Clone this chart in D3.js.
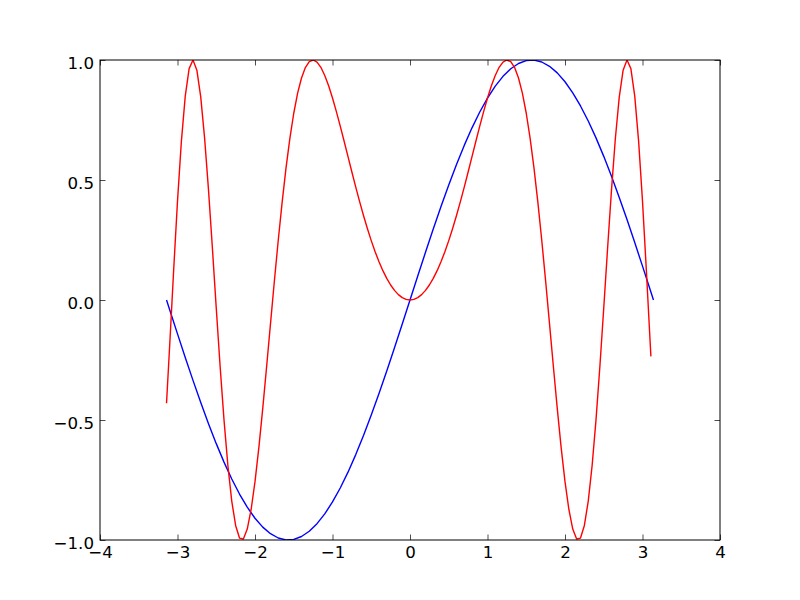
<!DOCTYPE html>
<html><head><meta charset="utf-8">
<script src="https://cdn.jsdelivr.net/npm/d3@7"></script>
<style>body{margin:0;background:#fff}svg{display:block}</style>
</head><body>
<svg id="c" width="800" height="600"></svg>
<script>
const blueX = [-3.1416,-3.1,-3.0,-2.9,-2.8,-2.7,-2.6,-2.5,-2.4,-2.3,-2.2,-2.1,-2.0,-1.9,-1.8,-1.7,-1.6,-1.5,-1.4,-1.3,-1.2,-1.1,-1.0,-0.9,-0.8,-0.7,-0.6,-0.5,-0.4,-0.3,-0.2,-0.1,0.0,0.1,0.2,0.3,0.4,0.5,0.6,0.7,0.8,0.9,1.0,1.1,1.2,1.3,1.4,1.5,1.6,1.7,1.8,1.9,2.0,2.1,2.2,2.3,2.4,2.5,2.6,2.7,2.8,2.9,3.0,3.1,3.1416];
const blueY = [0,-0.0416,-0.1411,-0.2392,-0.3350,-0.4274,-0.5155,-0.5985,-0.6755,-0.7457,-0.8085,-0.8632,-0.9093,-0.9463,-0.9738,-0.9917,-0.9996,-0.9975,-0.9854,-0.9636,-0.9320,-0.8912,-0.8415,-0.7833,-0.7174,-0.6442,-0.5646,-0.4794,-0.3894,-0.2955,-0.1987,-0.0998,0,0.0998,0.1987,0.2955,0.3894,0.4794,0.5646,0.6442,0.7174,0.7833,0.8415,0.8912,0.9320,0.9636,0.9854,0.9975,0.9996,0.9917,0.9738,0.9463,0.9093,0.8632,0.8085,0.7457,0.6755,0.5985,0.5155,0.4274,0.3350,0.2392,0.1411,0.0416,0];
const redX = [-3.1416,-3.10,-3.05,-3.00,-2.95,-2.90,-2.85,-2.80,-2.75,-2.70,-2.65,-2.60,-2.55,-2.50,-2.45,-2.40,-2.35,-2.30,-2.25,-2.20,-2.15,-2.10,-2.05,-2.00,-1.95,-1.90,-1.85,-1.80,-1.75,-1.70,-1.65,-1.60,-1.55,-1.50,-1.45,-1.40,-1.35,-1.30,-1.25,-1.20,-1.15,-1.10,-1.05,-1.00,-0.95,-0.90,-0.85,-0.80,-0.75,-0.70,-0.65,-0.60,-0.55,-0.50,-0.45,-0.40,-0.35,-0.30,-0.25,-0.20,-0.15,-0.10,-0.05,0.00,0.05,0.10,0.15,0.20,0.25,0.30,0.35,0.40,0.45,0.50,0.55,0.60,0.65,0.70,0.75,0.80,0.85,0.90,0.95,1.00,1.05,1.10,1.15,1.20,1.25,1.30,1.35,1.40,1.45,1.50,1.55,1.60,1.65,1.70,1.75,1.80,1.85,1.90,1.95,2.00,2.05,2.10,2.15,2.20,2.25,2.30,2.35,2.40,2.45,2.50,2.55,2.60,2.65,2.70,2.75,2.80,2.85,2.90,2.95,3.00,3.05,3.10,3.1084];
const redY = [-0.4303,-0.1841,0.1220,0.4121,0.6611,0.8494,0.9642,0.9999,0.9578,0.8452,0.6737,0.4589,0.2175,-0.0332,-0.2770,-0.4996,-0.6894,-0.8378,-0.9393,-0.9919,-0.9960,-0.9546,-0.8728,-0.7568,-0.6138,-0.4515,-0.2772,-0.0982,0.0790,0.2489,0.4069,0.5494,0.6736,0.7781,0.8620,0.9252,0.9685,0.9929,1.0000,0.9915,0.9695,0.9356,0.8925,0.8415,0.7847,0.7243,0.6613,0.5972,0.5333,0.4706,0.4101,0.3523,0.2979,0.2474,0.2011,0.1593,0.1222,0.0899,0.0625,0.0400,0.0225,0.0100,0.0025,0,0.0025,0.0100,0.0225,0.0400,0.0625,0.0899,0.1222,0.1593,0.2011,0.2474,0.2979,0.3523,0.4101,0.4706,0.5333,0.5972,0.6613,0.7243,0.7847,0.8415,0.8925,0.9356,0.9695,0.9915,1.0000,0.9929,0.9685,0.9252,0.8620,0.7781,0.6736,0.5494,0.4069,0.2489,0.0790,-0.0982,-0.2772,-0.4515,-0.6138,-0.7568,-0.8728,-0.9546,-0.9960,-0.9919,-0.9393,-0.8378,-0.6894,-0.4996,-0.2770,-0.0332,0.2175,0.4589,0.6737,0.8452,0.9578,0.9999,0.9642,0.8494,0.6611,0.4121,0.1220,-0.1841,-0.235];
const xTicks = [-4,-3,-2,-1,0,1,2,3,4];
const yTicks = [-1.0,-0.5,0.0,0.5,1.0];
const xLabels = ["\u22124","\u22123","\u22122","\u22121","0","1","2","3","4"];
const yLabels = ["\u22121.0","\u22120.5","0.0","0.5","1.0"];

const L=100,R=720,T=60,B=540;
const svg=d3.select("#c");
const x=d3.scaleLinear().domain([-4,4]).range([L,R]);
const y=d3.scaleLinear().domain([-1,1]).range([B,T]);
const font='"DejaVu Sans", sans-serif';
const fs=16.67, tl=5.5;

svg.append("clipPath").attr("id","cp").append("rect").attr("x",L).attr("y",T).attr("width",R-L).attr("height",B-T);
const line=d3.line().x(d=>x(d[0])).y(d=>y(d[1]));
const g=svg.append("g").attr("clip-path","url(#cp)");
g.append("path").datum(blueX.map((v,i)=>[v,blueY[i]])).attr("d",line).attr("fill","none").attr("stroke","#0000ff").attr("stroke-width",1.4).attr("stroke-linejoin","round");
g.append("path").datum(redX.map((v,i)=>[v,redY[i]])).attr("d",line).attr("fill","none").attr("stroke","#ff0000").attr("stroke-width",1.4).attr("stroke-linejoin","round");

const axB=d3.axisBottom(x).tickValues(xTicks).tickSize(-tl).tickSizeOuter(0).tickFormat((d,i)=>xLabels[i]).tickPadding(6);
const axT=d3.axisTop(x).tickValues(xTicks).tickSize(-tl).tickSizeOuter(0).tickFormat("");
const axL=d3.axisLeft(y).tickValues(yTicks).tickSize(-tl).tickSizeOuter(0).tickFormat((d,i)=>yLabels[i]).tickPadding(6);
const axR=d3.axisRight(y).tickValues(yTicks).tickSize(-tl).tickSizeOuter(0).tickFormat("");
function style(sel){sel.select(".domain").remove();sel.selectAll(".tick line").attr("stroke","#000").attr("stroke-width",0.7);sel.selectAll("text").attr("font-family",font).attr("font-size",fs).attr("fill","#000");}
svg.append("g").attr("transform",`translate(0,${B})`).call(axB).call(style);
svg.append("g").attr("transform",`translate(0,${T})`).call(axT).call(style);
svg.append("g").attr("transform",`translate(${L},0)`).call(axL).call(style).selectAll("text").attr("dy","0.5em");
svg.append("g").attr("transform",`translate(${R},0)`).call(axR).call(style);

svg.append("rect").attr("x",L).attr("y",T).attr("width",R-L).attr("height",B-T).attr("fill","none").attr("stroke","#000").attr("stroke-width",1);
</script>
</body></html>
